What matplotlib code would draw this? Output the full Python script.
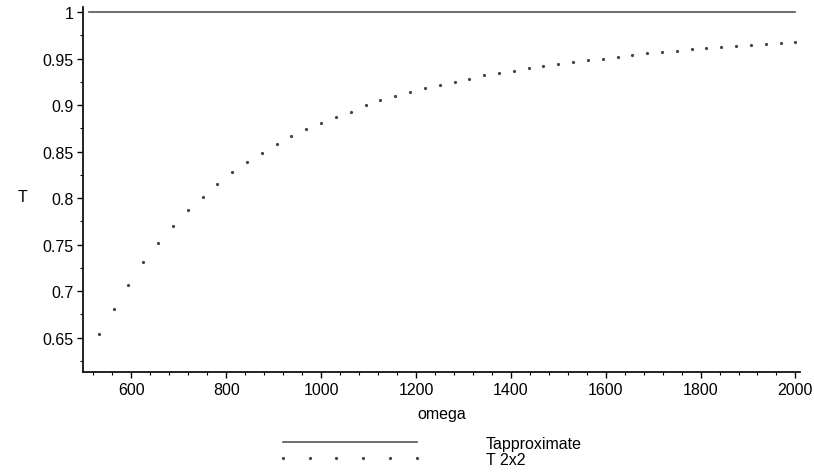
import matplotlib
matplotlib.use("Agg")
import matplotlib.pyplot as plt
from matplotlib.lines import Line2D
from matplotlib.ticker import MultipleLocator, FuncFormatter

plt.rcParams['font.family'] = ['Liberation Sans Narrow', 'Liberation Sans', 'DejaVu Sans']

# frequency grid of the 2x2 computation
omega = [531.25, 562.5, 593.75, 625, 656.25, 687.5, 718.75, 750,
         781.25, 812.5, 843.75, 875, 906.25, 937.5, 968.75, 1000,
         1031.25, 1062.5, 1093.75, 1125, 1156.25, 1187.5, 1218.75, 1250,
         1281.25, 1312.5, 1343.75, 1375, 1406.25, 1437.5, 1468.75, 1500,
         1531.25, 1562.5, 1593.75, 1625, 1656.25, 1687.5, 1718.75, 1750,
         1781.25, 1812.5, 1843.75, 1875, 1906.25, 1937.5, 1968.75, 2000]

t_2x2 = [0.654, 0.681, 0.707, 0.731, 0.752, 0.770, 0.787, 0.801,
         0.815, 0.828, 0.839, 0.849, 0.858, 0.867, 0.874, 0.881,
         0.887, 0.893, 0.900, 0.905, 0.910, 0.914, 0.918, 0.922,
         0.925, 0.928, 0.932, 0.935, 0.937, 0.940, 0.942, 0.944,
         0.946, 0.948, 0.950, 0.952, 0.954, 0.956, 0.957, 0.958,
         0.960, 0.961, 0.962, 0.964, 0.965, 0.966, 0.967, 0.968]

# approximate solution is flat at 1
omega_approx = [510, 2000]
t_approx = [1.0, 1.0]

fig = plt.figure(figsize=(8.14, 4.77), dpi=100)
ax = fig.add_axes([0.102, 0.218, 0.881, 0.765])

ax.plot(omega_approx, t_approx, color='#555555', lw=1.2)
ax.plot(omega, t_2x2, ls='none', marker='.', ms=2.6, color='#444444')

ax.set_xlim(498, 2010)
ax.set_ylim(0.613, 1.0054)

ax.xaxis.set_major_locator(MultipleLocator(200))
ax.xaxis.set_minor_locator(MultipleLocator(40))
ax.yaxis.set_major_locator(MultipleLocator(0.05))
ax.yaxis.set_minor_locator(MultipleLocator(0.025))
ax.yaxis.set_major_formatter(FuncFormatter(lambda v, p: '%g' % round(v, 2)))
ax.set_xticks([600, 800, 1000, 1200, 1400, 1600, 1800, 2000])

for s in ['top', 'right']:
    ax.spines[s].set_visible(False)
for s in ['left', 'bottom']:
    ax.spines[s].set_linewidth(1.3)
    ax.spines[s].set_color('#111111')

ax.tick_params(which='major', length=4, width=1, labelsize=11.5, pad=3)
ax.tick_params(which='minor', length=2, width=0.8)

ax.set_xlabel('omega', fontsize=11.5, labelpad=7)
ax.set_ylabel('T', fontsize=11.5, rotation=0, labelpad=14)
ax.yaxis.set_label_coords(-0.085, 0.46)

handles = [Line2D([], [], color='#555555', lw=1.2),
           Line2D([], [], ls='none', marker='.', ms=2.6, color='#444444')]
fig.legend(handles, ['Tapproximate', 'T 2x2'], loc='upper left',
           bbox_to_anchor=(278 / 814, 1 - 437 / 477), frameon=False,
           fontsize=11.5, numpoints=6, handlelength=9, handletextpad=4.0,
           labelspacing=0.05, borderpad=0, borderaxespad=0)

fig.savefig('out.png', dpi=100)
